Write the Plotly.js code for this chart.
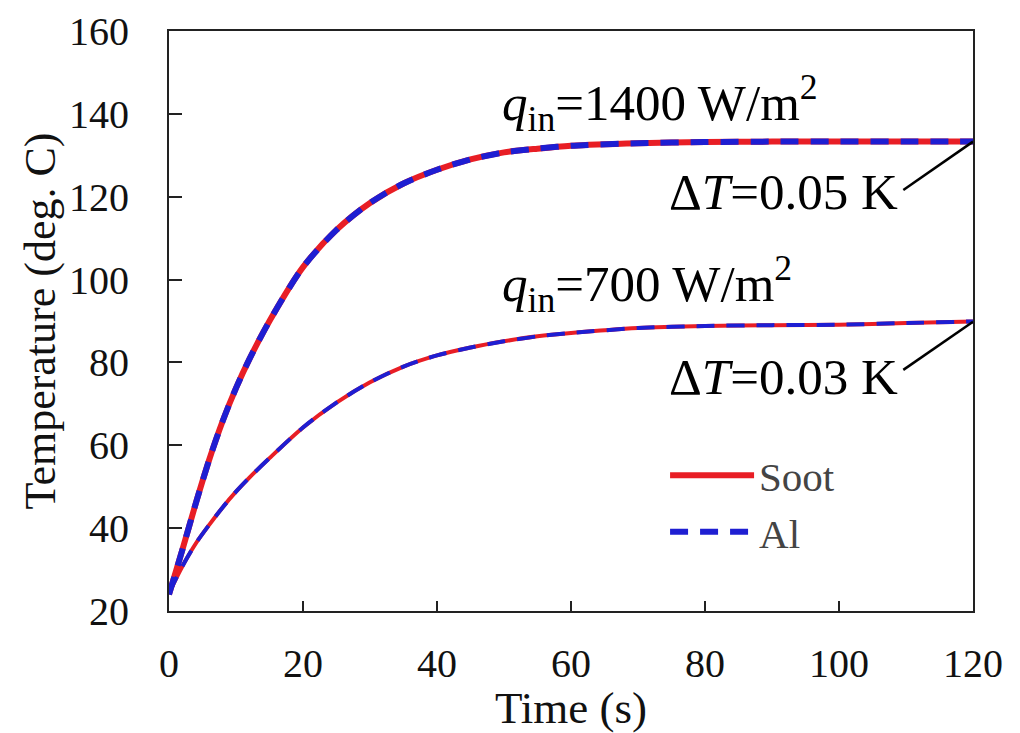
<!DOCTYPE html>
<html>
<head>
<meta charset="utf-8">
<script src="https://cdn.plot.ly/plotly-3.0.1.min.js"></script>
<style>html,body{margin:0;padding:0;background:#fff;}#chart{width:1020px;height:733px;}</style>
</head>
<body>
<div id="chart"></div>
<script>
// Time (s)
const time = [0, 2, 4, 6, 8, 10, 12, 15, 20, 25, 30, 35, 40, 45, 50, 55, 60, 70, 80, 90, 100, 110, 120];
// q_in = 1400 W/m2
const soot1400 = [24.0, 34.8, 46.0, 56.5, 65.8, 73.8, 80.8, 90.0, 103.0, 112.0, 118.5, 123.2, 126.5, 129.0, 130.7, 131.6, 132.3, 132.9, 133.2, 133.3, 133.3, 133.3, 133.3];
const al1400   = [24.0, 34.8, 46.0, 56.5, 65.8, 73.8, 80.8, 90.0, 103.0, 112.0, 118.5, 123.2, 126.5, 129.0, 130.7, 131.6, 132.3, 132.9, 133.2, 133.3, 133.3, 133.3, 133.3];
// q_in = 700 W/m2
const soot700 = [24.3, 30.8, 36.3, 40.8, 45.0, 48.8, 52.2, 56.9, 64.3, 70.3, 75.2, 79.0, 81.7, 83.6, 85.1, 86.3, 87.1, 88.3, 88.8, 89.0, 89.1, 89.5, 89.9];
const al700   = [24.3, 30.8, 36.3, 40.8, 45.0, 48.8, 52.2, 56.9, 64.3, 70.3, 75.2, 79.0, 81.7, 83.6, 85.1, 86.3, 87.1, 88.3, 88.8, 89.0, 89.1, 89.5, 89.9];

const xTicks = [0, 20, 40, 60, 80, 100, 120];
const yTicks = [20, 40, 60, 80, 100, 120, 140, 160];

const labels = {
  q1400: '<i>q</i><sub>in</sub>=1400 W/m<sup>2</sup>',
  q700: '<i>q</i><sub>in</sub>=700 W/m<sup>2</sup>',
  dT1400: 'Δ<i>T</i>=0.05 K',
  dT700: 'Δ<i>T</i>=0.03 K'
};

const RED = '#e81e25';
const BLUE = '#1e1ed2';
const FONT = 'Liberation Serif, Times New Roman, serif';

const traces = [
  {x: time, y: soot1400, name: 'Soot', mode: 'lines', legendgroup: 'soot', line: {color: RED, width: 6, shape: 'spline', smoothing: 0.8}},
  {x: time, y: soot700, name: 'Soot', mode: 'lines', legendgroup: 'soot', showlegend: false, line: {color: RED, width: 4, shape: 'spline', smoothing: 0.8}},
  {x: time, y: al1400, name: 'Al', mode: 'lines', legendgroup: 'al', line: {color: BLUE, width: 6, dash: '18px,12px', shape: 'spline', smoothing: 0.8}},
  {x: time, y: al700, name: 'Al', mode: 'lines', legendgroup: 'al', showlegend: false, line: {color: BLUE, width: 4, dash: '18px,12px', shape: 'spline', smoothing: 0.8}}
];

const layout = {
  width: 1020, height: 733,
  margin: {l: 169, r: 47, t: 31, b: 122},
  paper_bgcolor: '#fff', plot_bgcolor: '#fff',
  font: {family: FONT, color: '#111', size: 40},
  showlegend: true,
  legend: {
    x: 0.617, y: 0.291, xanchor: 'left', yanchor: 'top',
    bgcolor: 'rgba(0,0,0,0)', font: {size: 41, color: '#444', family: FONT},
    itemwidth: 84, tracegroupgap: 0
  },
  xaxis: {
    range: [0, 120], tickvals: xTicks, ticktext: xTicks.map(String),
    ticks: 'inside', ticklen: 10, tickwidth: 2, tickcolor: '#222',
    showline: true, linewidth: 2, linecolor: '#222', mirror: true,
    showgrid: false, zeroline: false,
    ticklabelstandoff: 16,
    tickfont: {size: 40, family: FONT},
    title: {text: 'Time (s)', font: {size: 45, family: FONT}, standoff: 4}
  },
  yaxis: {
    range: [20, 160], tickvals: yTicks, ticktext: yTicks.map(String),
    ticks: 'inside', ticklen: 13, tickwidth: 2, tickcolor: '#222',
    showline: true, linewidth: 2, linecolor: '#222', mirror: true,
    showgrid: false, zeroline: false,
    ticklabelstandoff: 30,
    tickfont: {size: 40, family: FONT},
    title: {text: 'Temperature (deg. C)', font: {size: 44, family: FONT}, standoff: 0}
  },
  annotations: [
    {x: 49.4, y: 142.6, xref: 'x', yref: 'y', text: labels.q1400, showarrow: false, xanchor: 'left', yanchor: 'middle', font: {size: 51, family: FONT, color: '#000'}},
    {x: 49.4, y: 98.9, xref: 'x', yref: 'y', text: labels.q700, showarrow: false, xanchor: 'left', yanchor: 'middle', font: {size: 51, family: FONT, color: '#000'}},
    {x: 109.1, y: 121.1, xref: 'x', yref: 'y', text: labels.dT1400, showarrow: false, xanchor: 'right', yanchor: 'middle', font: {size: 51, family: FONT, color: '#000'}},
    {x: 109.1, y: 76.5, xref: 'x', yref: 'y', text: labels.dT700, showarrow: false, xanchor: 'right', yanchor: 'middle', font: {size: 51, family: FONT, color: '#000'}}
  ],
  shapes: [
    {type: 'line', xref: 'x', yref: 'y', x0: 109.6, y0: 121.6, x1: 120, y1: 133.3, line: {color: '#000', width: 2.5}},
    {type: 'line', xref: 'x', yref: 'y', x0: 109.6, y0: 78.2, x1: 120, y1: 89.8, line: {color: '#000', width: 2.5}}
  ]
};

Plotly.newPlot('chart', traces, layout, {staticPlot: true, displayModeBar: false});
</script>
</body>
</html>
